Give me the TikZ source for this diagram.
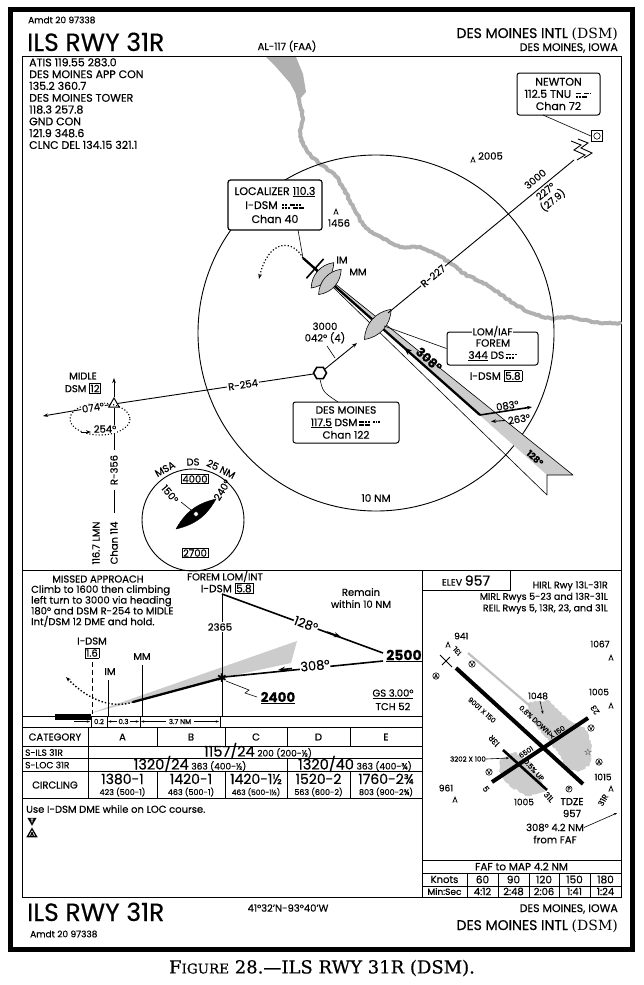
\documentclass[tikz,border=0pt]{standalone}
\usepackage{fontspec}
\setmainfont{Poppins}[FakeBold=0.45,Numbers=Monospaced]
\newfontfamily\capfont{DejaVu Serif}
\newfontfamily\capfontb{DejaVu Serif}[FakeBold=0.5]
\newfontfamily\symfont{DejaVu Sans}
\usetikzlibrary{arrows.meta,calc,decorations.pathmorphing,shapes.geometric}
\setlength{\fboxsep}{0.9pt}
\setlength{\fboxrule}{0.7pt}
\newcommand{\fsz}[2]{\fontsize{#1}{#2}\selectfont}
\newcommand{\md}{\rule{1.9pt}{1.8pt}\hspace{1pt}}
\newcommand{\mD}{\rule{4.8pt}{1.8pt}\hspace{1pt}}
\newcommand{\mg}{\hspace{2pt}}
\newcommand{\morse}[2]{\,\vbox{\offinterlineskip\hbox{#1}\vskip1.6pt\hbox{#2}}}
\begin{document}
\begin{tikzpicture}[x=1pt,y=-1pt,
  lwa/.style={line width=0.6pt},
  lwb/.style={line width=0.9pt},
  lwc/.style={line width=1.6pt},
  crs/.style={line width=2.3pt},
  f7/.style={inner sep=0pt,font=\fsz{7}{8}},
  f8/.style={inner sep=0pt,font=\fsz{8}{9}},
  f9/.style={inner sep=0pt,font=\fsz{9}{10}},
  f95/.style={inner sep=0pt,font=\fsz{9.5}{10.5}},
  f10/.style={inner sep=0pt,font=\fsz{10}{11}},
  f11/.style={inner sep=0pt,font=\fsz{10.5}{12}},
  ttl/.style={inner sep=0pt,font=\fsz{25}{25}},
  fbx/.style={draw,line width=1pt,rounded corners=2.5pt,fill=white},
  arr/.style={-{Stealth[length=5pt,width=3.6pt]}},
  sarr/.style={-{Stealth[length=3.2pt,width=2.4pt]}},
  shd/.style={fill=gray!40},
  river/.style={draw=gray!62,line width=4pt,line join=round,line cap=round,decorate,decoration={random steps,segment length=2.4pt,amplitude=0.9pt}},
  blob/.style={fill=gray!40,decorate,decoration={random steps,segment length=2pt,amplitude=1pt}},
  circ/.style={draw,circle,line width=0.6pt,inner sep=0.4pt,fill=white,font=\fsz{5.5}{6}},
  obst/.pic={\draw[line width=0.8pt] (-2.2,2.6) -- (0,-2.8) -- (2.2,2.6); \fill (0,1.6) circle (0.6);}
]
\useasboundingbox (0,0) rectangle (643,985);
\fill[white] (0,0) rectangle (643,985);
% ---------- frames
\draw[line width=5pt] (10,9.5) rectangle (632.5,949.5);
\draw[lwb] (22,56) rectangle (621,897);
\draw[lwb] (22,570) -- (621,570);
\draw[lwb] (422,570) -- (422,897);
% ---------- header
\node[f9,anchor=west] (amdtA) at (28,20) {Amdt 20 97338};
\node[ttl,anchor=base west] (ilsA) at (27,51) {ILS RWY 31R};
\node[f10,anchor=base] (al117) at (287,50) {AL-117 (FAA)};
\node[inner sep=0pt,font=\fsz{14}{15},anchor=base east] (aptA) at (618,38) {DES MOINES INTL {\capfont (DSM)}};
\node[inner sep=0pt,font=\fsz{11}{12},anchor=base east] (cityA) at (618,51) {DES MOINES, IOWA};
% ---------- comm
\node[anchor=north west,inner sep=0pt,align=left,font=\fsz{11}{11.8}] (comm) at (29,58) {ATIS 119.55 283.0\\DES MOINES APP CON\\135.2 360.7\\DES MOINES TOWER\\118.3 257.8\\GND CON\\121.9 348.6\\CLNC DEL 134.15 321.1};
% ---------- river
\fill[gray!62] (266,57) -- (296,57) -- (303,74) -- (306,92) -- (299,100) -- (290,83) -- (276,67) -- cycle;
\draw[river] plot[smooth] coordinates {(297,92) (300,105) (303,118) (300,131) (303,144) (311,156) (322,165) (334,174) (343,188) (350,201) (357,214) (366,228) (381,237) (400,247) (420,247) (435,254) (450,263) (463,273) (477,280) (490,287) (502,295) (516,305) (531,313) (550,318) (567,317) (583,320) (600,323) (620,323)};
% ---------- 10 NM circle
\draw[lwb] (376,333) circle[radius=178];
\node[f11] (tennm) at (376,498) {10 NM};
% ---------- localizer feather and course
\coordinate (locant) at (303,258);
\coordinate (ptA) at (480,415);
\coordinate (fNE) at (573,475);
\coordinate (fN) at (547,475);
\coordinate (fSW) at (547,495);
\fill[shd] (locant) -- (fNE) -- (fN) -- cycle;
\draw[lwa,line join=round] (locant) -- (fNE) -- (fN) -- (fSW) -- cycle;
\draw[crs] (locant) -- (ptA);
\node[inner sep=0pt,font=\fsz{9}{9}\bfseries,rotate=-41.6] (c128) at (535,458) {128°};
% markers
\filldraw[fill=gray!45,lwa] (391.1,309.4) to[bend left=40] (364.5,339.4) to[bend left=40] (391.1,309.4);
\filldraw[fill=gray!45,lwa] (333.8,262.6) to[bend left=40] (311.2,288.0) to[bend left=40] (333.8,262.6);
\filldraw[fill=gray!45,lwa] (341.2,269.2) to[bend left=40] (318.6,294.6) to[bend left=40] (341.2,269.2);
\draw[lwc] (323.6,258.9) -- (306.4,278.3);
\node[f10] (imA) at (342,260) {IM};
\node[f10] (mmA) at (358,272) {MM};
% 308 label
\draw[-{Stealth[length=8pt,width=6pt]},line width=1.2pt] (416,358.2) -- (404,347.5);
\node[inner sep=0pt,font=\fsz{12.5}{13}\bfseries,rotate=-41.6] (c308) at (429,359.5) {308°};
% procedure turn
\coordinate (pt083) at (532,407);
\draw[lwc,arr] (ptA) -- (pt083);
\node[f10,anchor=south,rotate=9] (l083) at (508,409.5) {083°};
\node[f10,rotate=9] (l263) at (519,419) {263°};
\draw[arr,lwb] (505,420.5) -- (491,421.5);
% ---------- Newton
\node[fbx,align=center,font=\fsz{11}{12.2},minimum width=83pt,minimum height=42pt,inner sep=0pt] (newton) at (558.5,94) {NEWTON\\112.5 TNU \morse{\mD\mg\mD\md}{\md\md\mD}\\Chan 72};
\node[draw,line width=1.3pt,minimum size=11pt,inner sep=0pt,fill=white] (tnu) at (597,136) {};
\node[draw,circle,lwa,minimum size=6.5pt,inner sep=0pt] (tnuc) at (597,136) {};
\coordinate (nwl) at (543,115);
\draw[lwa] (nwl) -- (tnu.west);
\draw[lwb] (571,141) -- (581,145) -- (574,150) -- (585,155) -- (577,160);
\draw[lwb] (578,139) -- (588,143) -- (581,148) -- (592,153) -- (584,158);
\coordinate (n227a) at (574,160);
\coordinate (n227b) at (388,313);
\draw[lwb] (n227a) -- (n227b);
\node[f10,fill=white,inner sep=1pt,rotate=39.4] (r227) at (433,276) {R-227};
\node[f10,rotate=39.4] (a3000) at (535.2,179) {3000};
\node[f10,rotate=39.4] (c227) at (545.4,191.3) {227°};
\node[f10,rotate=39.4] (d279) at (552.7,200.2) {(27.9)};
% obstacles
\pic at (336,212) {obst};
\node[f10] (o1456) at (339,223) {1456};
\pic at (473,160) {obst};
\node[f10,anchor=west] (o2005) at (478,156) {2005};
% ---------- localizer box
\node[fbx,align=center,font=\fsz{11}{14},minimum width=94pt,minimum height=50pt,inner sep=0pt,line width=1.2pt] (loc) at (275,205) {LOCALIZER \underline{110.3}\\I-DSM \morse{\md\md\mg\mD\md\md}{\md\md\md\mg\mD\mD}\\Chan 40};
\coordinate (locl) at (298,230);
\draw[lwa] (locl) -- (locant);
\draw[dotted,line width=1.2pt,arr] (locant) .. controls (292,238) and (268,240) .. (259,279);
% ---------- LOM box
\node[fbx,minimum width=91pt,minimum height=33pt,inner sep=0pt] (lombox) at (492.5,348.5) {};
\coordinate (lomc) at (384,326);
\draw[lwa] (lombox.west) -- (lomc);
\node[f10,fill=white,inner sep=1pt] (lomiaf) at (lombox.north) {LOM/IAF};
\node[f11] (forem) at (493,343) {FOREM};
\node[f11] (ndb344) at (493,356) {\underline{344} DS\morse{\mD\md\md}{\md\md\md}};
\node[f11] (idsm58) at (496,376) {I-DSM \fbox{5.8}};
% ---------- Des Moines VOR
\node[regular polygon,regular polygon sides=6,draw,line width=1.6pt,minimum size=13pt,inner sep=0pt,fill=white] (dsm) at (320,373) {};
\coordinate (c042) at (357,343);
\draw[lwb,arr] (dsm) -- (c042);
\node[align=center,inner sep=0pt,font=\fsz{10}{11.5}] (alt042) at (325,333) {3000\\042° (4)};
\draw[lwa] (327,346) -- (335,358);
\node[fbx,align=center,font=\fsz{10.5}{12.5},minimum width=106pt,minimum height=41pt,inner sep=0pt] (dsmbox) at (346,422.5) {DES MOINES\\\underline{117.5} DSM\morse{\mD\md\md\mg\md\md\md}{\mD\mD}\\Chan 122};
\coordinate (dsml) at (338,402);
\draw[lwa] (dsm.south) .. controls (323,392) .. (dsml);
% ---------- MIDLE
\node[regular polygon,regular polygon sides=3,draw,line width=1pt,minimum size=12pt,inner sep=0pt,fill=white] (midle) at (114,404) {};
\draw[lwb] (dsm) -- (midle);
\node[f10,fill=white,inner sep=1pt,rotate=8.5] (r254) at (243,384.7) {R-254};
\node[f10] (midleN) at (83,376) {MIDLE};
\node[f10] (midleD) at (83,388.5) {DSM \fbox{12}};
\coordinate (r356top) at (114,378);
\draw[lwb,arr] (midle.north) -- (r356top);
\draw[lwb] (114,450) -- (midle.south);
\draw[lwb] (114,490) -- (114,513);
\node[f10,rotate=90] (r356) at (114,470) {R-356};
\node[f10,rotate=90] (lmn) at (96,543) {116.7 LMN};
\node[f10,rotate=90] (ch114) at (114,543) {Chan 114};
\coordinate (w074) at (43,416);
\draw[lwb,arr] (midle) -- (w074);
\draw[dotted,line width=1.1pt] (100,419) ellipse[x radius=30,y radius=16];
\node[f10,fill=white,inner sep=0.8pt,rotate=9] (l074) at (93,407.5) {074°};
\node[f10,fill=white,inner sep=0.8pt] (l254) at (105,429) {254°};
\draw[arr,lwb] (81,432) -- (91,432);
% ---------- MSA
\draw[lwb] (193,520) circle[radius=51];
\node[f10,rotate=29] (msa1) at (165,469) {MSA};
\node[f10,rotate=1] (msa2) at (193,462) {DS};
\node[f10,rotate=-27] (msa3) at (221,469) {25 NM};
\node[draw,line width=0.8pt,inner sep=1.2pt,font=\fsz{10}{10}] (m4000) at (195,479) {4000};
\node[draw,line width=0.8pt,inner sep=1.2pt,font=\fsz{10}{10}] (m2700) at (195,553) {2700};
\draw[lwa] (196,514) -- (181,502);
\draw[lwa] (196,514) -- (211,502);
\node[f10,rotate=-50] (m150) at (170,494) {150°};
\node[f10,rotate=58] (m240) at (222,490) {240°};
\filldraw[fill=black] (176,529) to[bend left=24] (216,499) to[bend left=24] (176,529);
\filldraw[fill=white,lwa] (196,514) circle (2.4);
% ---------- profile
\node[f10] (mapT) at (98,579) {MISSED APPROACH};
\node[anchor=north west,inner sep=0pt,align=left,font=\fsz{10}{10.8}] (mapX) at (31,585) {Climb to 1600 then climbing\\left turn to 3000 via heading\\180° and DSM R-254 to MIDLE\\Int/DSM 12 DME and hold.};
\node[f10] (foremT) at (225,576.5) {FOREM LOM/INT};
\node[f11] (foremD) at (227,588.5) {I-DSM \fbox{5.8}};
\node[f10] (remain1) at (361,592) {Remain};
\node[f10] (remain2) at (361,604) {within 10 NM};
\fill[shd] (88,714) -- (297,641) -- (291,663) -- (222,678) -- (133,702) -- cycle;
\coordinate (fafT) at (222,594);
\coordinate (fafB) at (222,716);
\draw[lwb] (fafT) -- (fafB);
\node[f10,fill=white,inner sep=1pt] (a2365) at (220,627) {2365};
\coordinate (p2500a) at (383,653);
\draw[lwc] (fafT) -- (p2500a);
\node[font=\fsz{12.5}{12.5},fill=white,inner sep=0.5pt,rotate=-19.8] (l128) at (306,624) {128°};
\draw[-{Stealth[length=7pt,width=5pt]},lwc] (327,632) -- (341,637);
\node[font=\fsz{14}{14}\bfseries,inner sep=0pt] (a2500) at (404,656) {\underline{2500}};
\coordinate (p2500b) at (383,661);
\coordinate (fafS) at (224,677);
\draw[lwc] (p2500b) -- (fafS);
\node[font=\fsz{13}{13},fill=white,inner sep=0.5pt,rotate=5.7] (l308p) at (315,665.5) {308°};
\draw[-{Stealth[length=7pt,width=5pt]},lwc] (292,668.5) -- (278,670);
\coordinate (gsl) at (133,702);
\coordinate (fafX) at (222,678);
\draw[crs] (fafX) -- (gsl);
\draw[dotted,line width=1.4pt,arr] (gsl) .. controls (112,709) and (88,700) .. (66,677);
\node[font=\symfont\fsz{12}{12},inner sep=0pt] (fafstar) at (222,678) {✱};
\draw[lwa] (226,681) -- (249,690) -- (245,693) -- (257,697);
\node[font=\fsz{13.5}{14}\bfseries,inner sep=0pt] (a2400) at (278,698) {\underline{2400}};
\node[f10] (gs) at (393,694) {\underline{GS 3.00°}};
\node[f10] (tch) at (393,706.5) {TCH 52};
\node[f10] (idsmP) at (92,641) {I-DSM};
\node[f10] (d16) at (92,653) {\fbox{1.6}};
\draw[lwb,dash pattern=on 5pt off 3pt] (92,662) -- (92,714);
\draw[lwa] (108,680) -- (108,716);
\node[f10] (imP) at (110,671.5) {IM};
\draw[lwa] (142,665) -- (142,716);
\node[f10] (mmP) at (142,656.5) {MM};
\draw[lwb] (22,716) -- (422,716);
\fill (55,713.5) rectangle (91,719.5);
% distance row
\foreach \xx in {91,107,140,220} {\draw[lwa] (\xx,716) -- (\xx,727);}
\node[f7] (d02) at (99,721.5) {0.2};
\node[f7] (d03) at (123.5,721.5) {0.3};
\draw[lwa,sarr] (117,721.5) -- (108,721.5);
\draw[lwa,sarr] (130,721.5) -- (139,721.5);
\node[f7] (d37) at (180,721.5) {3.7 NM};
\draw[lwa,sarr] (166,721.5) -- (141,721.5);
\draw[lwa,sarr] (194,721.5) -- (219,721.5);
\draw[lwa,sarr] (74,721.5) -- (90,721.5);
% ---------- minimums table
\foreach \yy in {727,746,758,771,798} {\draw[lwb] (22,\yy) -- (422,\yy);}
\draw[lwb] (88,727) -- (88,798);
\foreach \xx in {157,225,287,350} {\draw[lwb] (\xx,727) -- (\xx,746); \draw[lwb] (\xx,771) -- (\xx,798);}
\draw[lwb] (287,758) -- (287,771);
\node[f10] (cat) at (55,737) {CATEGORY};
\node[f10] (ca) at (122.5,737) {A};
\node[f10] (cb) at (191,737) {B};
\node[f10] (cc) at (256,737) {C};
\node[f10] (cd) at (318.5,737) {D};
\node[f10] (ce) at (386,737) {E};
\node[f9,anchor=west] (sils) at (25,752.5) {S-ILS 31R};
\node[f9,anchor=west] (sloc) at (25,765) {S-LOC 31R};
\node[f10] (circ) at (55,785) {CIRCLING};
\node[inner sep=0pt,anchor=base] (silsv) at (258,756.5) {{\fsz{14.5}{14}1157/24} {\fsz{9}{9}200 (200-½)}};
\node[inner sep=0pt,anchor=base] (slocv1) at (190,769.5) {{\fsz{14.5}{14}1320/24} {\fsz{9}{9}363 (400-½)}};
\node[inner sep=0pt,anchor=base] (slocv2) at (355,769.5) {{\fsz{14.5}{14}1320/40} {\fsz{9}{9}363 (400-¾)}};
\node[inner sep=0pt,anchor=base,font=\fsz{14}{14}] (cva) at (122.5,784) {1380-1};
\node[inner sep=0pt,anchor=base,font=\fsz{14}{14}] (cvb) at (191,784) {1420-1};
\node[inner sep=0pt,anchor=base,font=\fsz{14}{14}] (cvc) at (256,784) {1420-1½};
\node[inner sep=0pt,anchor=base,font=\fsz{14}{14}] (cvd) at (318.5,784) {1520-2};
\node[inner sep=0pt,anchor=base,font=\fsz{14}{14}] (cve) at (386,784) {1760-2¾};
\node[inner sep=0pt,anchor=base,font=\fsz{8}{8}] (cwa) at (122.5,795) {423 (500-1)};
\node[inner sep=0pt,anchor=base,font=\fsz{8}{8}] (cwb) at (191,795) {463 (500-1)};
\node[inner sep=0pt,anchor=base,font=\fsz{7.5}{8}] (cwc) at (256,795) {463 (500-1½)};
\node[inner sep=0pt,anchor=base,font=\fsz{8}{8}] (cwd) at (318.5,795) {563 (600-2)};
\node[inner sep=0pt,anchor=base,font=\fsz{8}{8}] (cwe) at (386,795) {803 (900-2¾)};
\node[f10,anchor=west] (note1) at (26,809) {Use I-DSM DME while on LOC course.};
\node[regular polygon,regular polygon sides=3,shape border rotate=180,fill=black,minimum size=10.5pt,inner sep=0pt,text=white,font=\fsz{5}{5}\bfseries] (tmin) at (32,820.5) {T};
\node[regular polygon,regular polygon sides=3,draw,line width=1.3pt,minimum size=10.5pt,inner sep=0pt,font=\fsz{5}{5}\bfseries] (amin) at (32,834) {A};
% ---------- airport diagram
\draw[lwb] (422,590) -- (510,590) -- (510,570);
\node[inner sep=0pt] (elev) at (466,580.5) {{\fsz{9.5}{10}ELEV} {\fsz{14}{14}957}};
\node[f95,anchor=east] (hirl) at (608,586) {HIRL Rwy 13L-31R};
\node[f95,anchor=east] (mirl) at (608,597.5) {MIRL Rwys 5-23 and 13R-31L};
\node[f95,anchor=east] (reil) at (608,609) {REIL Rwys 5, 13R, 23, and 31L};
\fill[blob] (528,703) -- (548,700) -- (560,712) -- (572,722) -- (585,728) -- (592,745) -- (590,765) -- (578,772) -- (566,768) -- (560,755) -- (548,740) -- (538,728) -- (530,716) -- cycle;
\fill[blob] (500,760) -- (515,752) -- (530,762) -- (540,778) -- (545,792) -- (528,796) -- (512,788) -- (500,775) -- cycle;
\draw[gray!50,line width=2.2pt] (468,653) -- (530,706);
\coordinate (r13L) at (456,668);
\coordinate (r31R) at (583,784);
\coordinate (r05) at (492,782);
\coordinate (r23) at (588,718);
\coordinate (r13R) at (503,750);
\coordinate (r31L) at (547,790);
\node[f7,rotate=33.7] (l6501) at (526,752) {6501};
\node[f7,rotate=33.7] (l6501b) at (557,732) {X 150};
\draw[line width=4pt] (r13L) -- (r31R);
\draw[line width=4pt] (r05) -- (r23);
\draw[line width=2.6pt] (r13R) -- (r31L);
\node[f7,rotate=132] (l13L) at (457,651) {13L};
\node[f7,rotate=-42] (l9001) at (482,710) {9001 X 150};
\node[f7,rotate=-42] (l08) at (535,720) {0.8\% DOWN};
\node[f7,rotate=-48] (l05up) at (534,770) {0.5\% UP};
\node[f8,rotate=132] (l13R) at (494,741) {13R};
\node[f8,rotate=-48] (l31L) at (549,797) {31L};
\node[f8,rotate=-56] (l5) at (486,789) {5};
\node[f8,rotate=124] (l23) at (595,710) {23};
\node[f7,anchor=east] (l3202) at (486,759) {3202 X 100};
\coordinate (r13Rp) at (509,758);
\draw[lwa,sarr] (l3202.east) -- (r13Rp);
\pic at (448,645) {obst};
\node[f9,anchor=west] (o941) at (454,636) {941};
\node[f9] (o1067) at (600,644) {1067};
\pic at (611,658) {obst};
\node[f9] (o1048) at (538,696) {1048};
\draw[lwa,sarr] (540,701) -- (543,714);
\node[f9] (o1005a) at (599,692) {1005};
\pic at (611,706) {obst};
\node[f9] (o1015) at (603,777) {1015};
\pic at (611,789) {obst};
\node[f9] (o961) at (446,788) {961};
\pic at (455,800) {obst};
\node[f9] (o1005b) at (524,802) {1005};
\node[f10] (tdze) at (572,801.5) {TDZE};
\node[f10] (tdzev) at (572,813.5) {957};
\node[f10] (fafd1) at (555,827.5) {308° 4.2 NM};
\node[f10] (fafd2) at (555,839.5) {from FAF};
\node[f8,rotate=60] (l31Rb) at (603,800) {31R};
\coordinate (a31R) at (617,813);
\draw[lwa,sarr] (fafd1.east) -- (a31R);
\node[circ] (sa1) at (436,676) {A};
\node[circ] (sv1) at (472,664) {V};
\node[circ] (sv2) at (591,728) {V};
\node[circ] (sv3) at (489,772) {V};
\node[circ] (sp1) at (569,789) {P};
\node[circ] (sa2) at (599,762) {A};
\node[inner sep=0pt,font=\symfont\fsz{9}{9}] (bcn) at (588,752) {☆};
\draw[lwb] (440,655) -- (452,667);
\draw[lwb] (442,665) -- (450,657);
% ---------- FAF to MAP table
\foreach \yy in {860,873,886} {\draw[lwb] (422,\yy) -- (621,\yy);}
\foreach \xx in {467,498,529,559,590} {\draw[lwb] (\xx,873) -- (\xx,897);}
\node[f11] (fafmap) at (521.5,866.5) {FAF to MAP 4.2 NM};
\node[f10] (kn) at (444.5,879.5) {Knots};
\node[f11] (k60) at (482.5,879.5) {60};
\node[f11] (k90) at (513.5,879.5) {90};
\node[f11] (k120) at (544,879.5) {120};
\node[f11] (k150) at (574.5,879.5) {150};
\node[f11] (k180) at (605.5,879.5) {180};
\node[f9] (ms) at (444.5,891.5) {Min:Sec};
\node[f10] (m60) at (482.5,891.5) {4:12};
\node[f10] (m90) at (513.5,891.5) {2:48};
\node[f10] (m120) at (544,891.5) {2:06};
\node[f10] (m150) at (574.5,891.5) {1:41};
\node[f10] (m180) at (605.5,891.5) {1:24};
% ---------- bottom
\node[ttl,anchor=base west] (ilsB) at (27,921) {ILS RWY 31R};
\node[f9,anchor=west] (amdtB) at (30,934) {Amdt 20 97338};
\node[f10] (coords) at (288,908) {41°32'N-93°40'W};
\node[inner sep=0pt,font=\fsz{11}{12},anchor=base east] (cityB) at (618,912) {DES MOINES, IOWA};
\node[inner sep=0pt,font=\fsz{14}{15},anchor=base east] (aptB) at (618,930) {DES MOINES INTL {\capfont (DSM)}};
\node[inner sep=0pt,font=\capfontb\fsz{18}{18}] (caption) at (322,968) {F{\fsz{13.5}{14}IGURE} 28.—ILS RWY 31R (DSM).};
\end{tikzpicture}
\end{document}
